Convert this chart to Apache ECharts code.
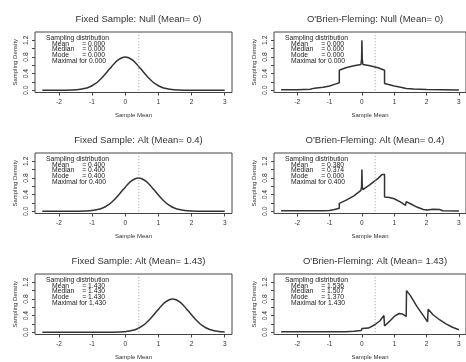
<!DOCTYPE html>
<html>
<head>
<meta charset="utf-8">
<script src="https://cdn.jsdelivr.net/npm/echarts@6/dist/echarts.min.js"></script>
<style>
html, body { margin: 0; padding: 0; background: #fff; }
#main { width: 466px; height: 362px; }
</style>
</head>
<body>
<div id="main"></div>
<script>
// tick labels
var xTicks = [-2, -1, 0, 1, 2, 3];
var yTicks = [0, 0.2, 0.4, 0.6, 0.8, 1.0, 1.2];
var yLabels = [0, 0.4, 0.8, 1.2];
var critValue = 0.41;

var titles = [
	'Fixed Sample: Null (Mean= 0)', "O'Brien-Fleming: Null (Mean= 0)",
	'Fixed Sample: Alt (Mean= 0.4)', "O'Brien-Fleming: Alt (Mean= 0.4)",
	'Fixed Sample: Alt (Mean= 1.43)', "O'Brien-Fleming: Alt (Mean= 1.43)"
];
var statMean    = ['0.000', '0.000', '0.400', '0.380', '1.430', '1.536'];
var statMedian  = ['0.000', '0.000', '0.400', '0.374', '1.430', '1.507'];
var statMode    = ['0.000', '0.000', '0.400', '0.000', '1.430', '1.370'];
var statMaximal = ['0.000', '0.000', '0.400', '0.400', '1.430', '1.430'];

// sampling densities [sample mean, density]
var fixedNull = [[-2.5,0],[-2,0],[-1.8,0.001],[-1.6,0.005],[-1.4,0.016],[-1.2,0.045],[-1.1,0.071],[-1,0.108],
	[-0.9,0.158],[-0.8,0.222],[-0.7,0.3],[-0.6,0.388],[-0.5,0.484],[-0.4,0.579],[-0.3,0.667],[-0.2,0.734],
	[-0.1,0.782],[0,0.798],[0.1,0.782],[0.2,0.734],[0.3,0.667],[0.4,0.579],[0.5,0.484],[0.6,0.388],[0.7,0.3],
	[0.8,0.222],[0.9,0.158],[1,0.108],[1.1,0.071],[1.2,0.045],[1.4,0.016],[1.6,0.005],[1.8,0.001],[2,0],[3,0]];
var fixedAlt04 = [[-2.5,0],[-1.6,0],[-1.4,0.001],[-1.2,0.005],[-1,0.016],[-0.8,0.045],[-0.7,0.071],[-0.6,0.108],
	[-0.5,0.158],[-0.4,0.222],[-0.3,0.3],[-0.2,0.388],[-0.1,0.484],[0,0.579],[0.1,0.667],[0.2,0.734],[0.3,0.782],
	[0.4,0.798],[0.5,0.782],[0.6,0.734],[0.7,0.667],[0.8,0.579],[0.9,0.484],[1,0.388],[1.1,0.3],[1.2,0.222],
	[1.3,0.158],[1.4,0.108],[1.5,0.071],[1.6,0.045],[1.8,0.016],[2,0.005],[2.2,0.001],[2.4,0],[3,0]];
var fixedAlt143 = [[-2.5,0],[-0.6,0],[-0.37,0.001],[-0.17,0.005],[0.03,0.016],[0.23,0.045],[0.33,0.071],[0.43,0.108],
	[0.53,0.158],[0.63,0.222],[0.73,0.3],[0.83,0.388],[0.93,0.484],[1.03,0.579],[1.13,0.667],[1.23,0.734],
	[1.33,0.782],[1.43,0.798],[1.53,0.782],[1.63,0.734],[1.73,0.667],[1.83,0.579],[1.93,0.484],[2.03,0.388],
	[2.13,0.3],[2.23,0.222],[2.33,0.158],[2.43,0.108],[2.53,0.071],[2.63,0.045],[2.73,0.027],[2.83,0.016],
	[2.93,0.009],[3,0.006]];
var obfNull = [[-2.5,0.01],[-2,0.012],[-1.6,0.025],[-1.47,0.05],[-1.42,0.035],[-1.2,0.07],[-1,0.1],[-0.85,0.14],
	[-0.7,0.18],[-0.7,0.48],[-0.5,0.54],[-0.25,0.59],[-0.03,0.62],[-0.01,0.75],[0,1.2],[0.01,0.75],[0.03,0.62],
	[0.25,0.59],[0.5,0.54],[0.7,0.48],[0.7,0.16],[0.85,0.13],[1,0.1],[1.2,0.07],[1.37,0.04],[1.42,0.06],
	[1.6,0.03],[2,0.015],[2.5,0.01],[3,0.005]];
var obfAlt04 = [[-2.5,0.01],[-1.2,0.01],[-1,0.015],[-0.85,0.04],[-0.7,0.07],[-0.7,0.19],[-0.5,0.26],[-0.25,0.37],
	[-0.03,0.5],[-0.01,0.6],[0,1.0],[0.01,0.6],[0.03,0.52],[0.25,0.64],[0.5,0.79],[0.62,0.88],[0.7,0.89],
	[0.7,0.34],[0.85,0.33],[1,0.3],[1.2,0.22],[1.35,0.14],[1.37,0.23],[1.5,0.18],[1.7,0.1],[1.9,0.04],
	[2.02,0.03],[2.05,0.06],[2.2,0.05],[2.4,0.04],[2.5,0.01],[3,0.005]];
var obfAlt143 = [[-2.5,0.01],[-0.5,0.01],[-0.25,0.025],[-0.02,0.04],[0,0.09],[0.02,0.06],[0.2,0.1],[0.4,0.18],
	[0.55,0.27],[0.68,0.4],[0.7,0.15],[0.85,0.26],[1,0.38],[1.15,0.45],[1.25,0.44],[1.37,0.38],[1.38,1.0],
	[1.5,0.88],[1.7,0.62],[1.9,0.4],[2.03,0.25],[2.05,0.55],[2.2,0.42],[2.4,0.3],[2.6,0.2],[2.8,0.12],[3,0.06]];

var panelData = [fixedNull, obfNull, fixedAlt04, obfAlt04, fixedAlt143, obfAlt143];

(function(){
	var myChart = echarts.init(document.getElementById('main'));
	var font = '"Liberation Sans", Arial, sans-serif';
	var colLeft = [35, 274], colWidth = [197, 192];
	var rowTop = [32, 153, 274], boxH = 60.5;

	var grids = [], xAxes = [], yAxes = [], series = [], title = [], graphic = [];
	for (var i = 0; i < 6; i++) {
		var c = i % 2, r = Math.floor(i / 2);
		var gl = colLeft[c], gt = rowTop[r];
		grids.push({
			left: gl, top: gt, width: colWidth[c], height: boxH,
			show: true, borderColor: '#444', borderWidth: 1
		});
		xAxes.push({
			type: 'value', gridIndex: i, min: -2.72, max: 3.22, position: 'bottom',
			name: 'Sample Mean', nameLocation: 'middle', nameGap: 20,
			nameTextStyle: { fontFamily: font, fontSize: 6, color: '#333' },
			axisLine: { show: false, onZero: false },
			axisTick: { show: true, length: 3, customValues: xTicks, lineStyle: { color: '#444' } },
			axisLabel: { customValues: xTicks, margin: 6, fontFamily: font, fontSize: 6.5, color: '#333' },
			splitLine: { show: false }
		});
		yAxes.push({
			type: 'value', gridIndex: i, min: -0.055, max: 1.4, position: 'left',
			name: 'Sampling Density', nameLocation: 'middle', nameGap: 17,
			nameTextStyle: { fontFamily: font, fontSize: 6, color: '#333' },
			axisLine: { show: false, onZero: false },
			axisTick: { show: true, length: 3, customValues: yTicks, lineStyle: { color: '#444' } },
			axisLabel: {
				customValues: yLabels, rotate: 90, margin: 5, fontFamily: font, fontSize: 6.8, color: '#333',
				formatter: function (v) { return v.toFixed(1); }
			},
			splitLine: { show: false }
		});
		series.push({
			type: 'line', xAxisIndex: i, yAxisIndex: i, data: panelData[i],
			showSymbol: false, smooth: c === 0 ? 0.3 : false, silent: true,
			lineStyle: { color: '#333', width: 1.5 }
		});
		series.push({
			type: 'line', xAxisIndex: i, yAxisIndex: i,
			data: [[critValue, 0], [critValue, 1.4]],
			showSymbol: false, silent: true,
			lineStyle: { color: '#999', width: 1, type: [1, 2] }
		});
		title.push({
			text: titles[i], left: gl + colWidth[c] / 2, top: gt - 23, textAlign: 'center',
			textStyle: { fontFamily: font, fontSize: 9.5, fontWeight: 'normal', color: '#333' }
		});
		// sampling distribution summary
		var tx = gl + 11, ty = gt + 2.5, lh = 5.7;
		var lines = [
			['Sampling distribution', '', tx],
			['Mean', '= ' + statMean[i], tx + 6],
			['Median', '= ' + statMedian[i], tx + 6],
			['Mode', '= ' + statMode[i], tx + 6],
			['Maximal for ' + statMaximal[i], '', tx + 6]
		];
		for (var k = 0; k < lines.length; k++) {
			graphic.push({
				type: 'text', silent: true,
				style: { text: lines[k][0], x: lines[k][2], y: ty + k * lh, fill: '#222',
					fontFamily: font, fontSize: 6.8, verticalAlign: 'top', align: 'left' }
			});
			if (lines[k][1]) {
				graphic.push({
					type: 'text', silent: true,
					style: { text: lines[k][1], x: tx + 59, y: ty + k * lh, fill: '#222',
						fontFamily: font, fontSize: 6.8, verticalAlign: 'top', align: 'right' }
				});
			}
		}
	}

	var option = {
		animation: false,
		title: title,
		grid: grids,
		xAxis: xAxes,
		yAxis: yAxes,
		series: series,
		graphic: graphic
	};
	myChart.setOption(option);
	window.addEventListener("resize", function() {
		myChart.resize();
	});
})();
</script>
</body>
</html>
